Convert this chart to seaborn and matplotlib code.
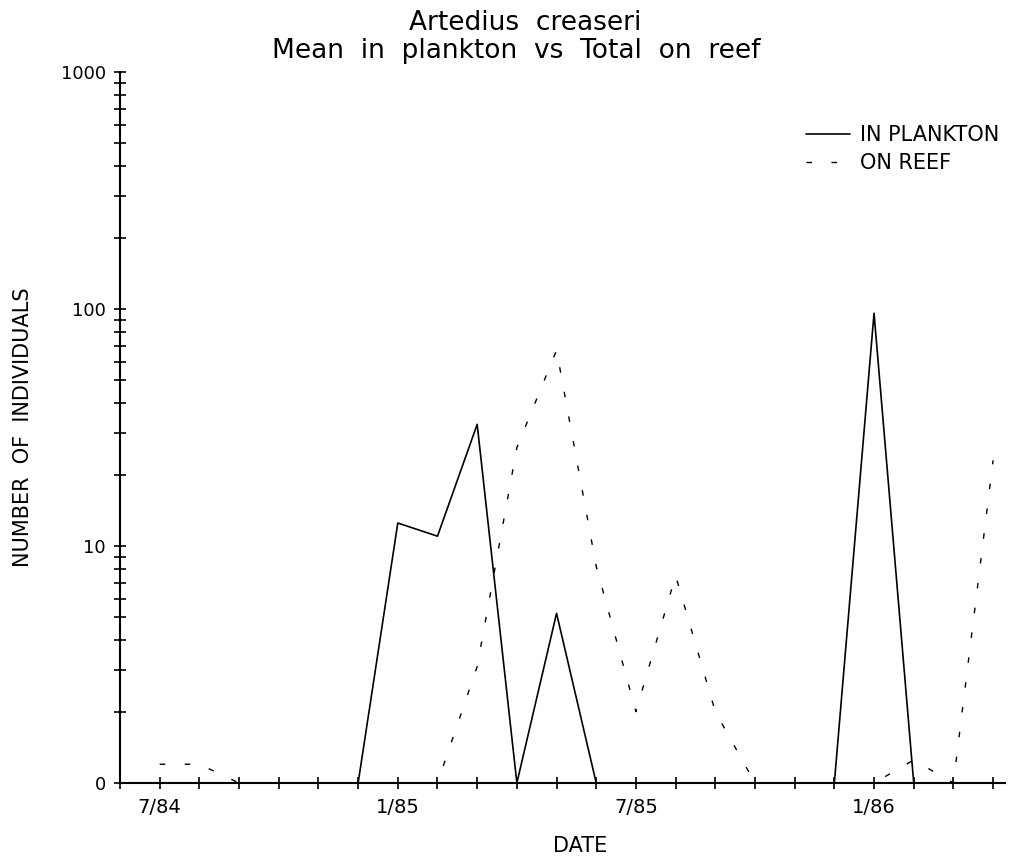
import numpy as np
import pandas as pd
import matplotlib
matplotlib.use("Agg")
import matplotlib.pyplot as plt
import seaborn as sns
from matplotlib.ticker import FixedLocator, FixedFormatter, NullFormatter

# monthly sampling dates, 6/84 - 4/86
months = ['6/84', '7/84', '8/84', '9/84', '10/84', '11/84', '12/84',
          '1/85', '2/85', '3/85', '4/85', '5/85', '6/85', '7/85', '8/85',
          '9/85', '10/85', '11/85', '12/85', '1/86', '2/86', '3/86', '4/86']

# mean number in plankton (6/84 - 3/86)
plankton_months = months[:22]
plankton = [0, 0, 0, 0, 0, 0, 0, 11.5, 10.0, 31.6, 0, 4.2,
            0, 0, 0, 0, 0, 0, 0, 95, 0, 0]

# total number on reef (7/84 - 4/86)
reef_months = months[1:]
reef = [0.2, 0.2, 0, 0, 0, 0, 0, 0, 2.1, 25, 66, 7.2, 1.0, 6.5, 1.0,
        0, 0, 0, 0, 0.25, 0, 22]

labelled_months = ['7/84', '1/85', '7/85', '1/86']
y_ticks = [0, 10, 100, 1000]

# log(n + 1) axis, the bottom of the axis is zero
df_p = pd.DataFrame({'pos': [months.index(m) for m in plankton_months],
                     'n': np.array(plankton) + 1})
df_r = pd.DataFrame({'pos': [months.index(m) for m in reef_months],
                     'n': np.array(reef) + 1})

sns.set_style("ticks")
plt.rcParams['font.family'] = ['DejaVu Sans']
plt.rcParams['text.color'] = 'black'
plt.rcParams['axes.labelcolor'] = 'black'
plt.rcParams['xtick.color'] = 'black'
plt.rcParams['ytick.color'] = 'black'

fig = plt.figure(figsize=(10.1, 8.61), dpi=100)
ax = fig.add_axes([120 / 1010, 78 / 861, 885 / 1010, 711 / 861])

sns.lineplot(data=df_p, x='pos', y='n', ax=ax, color='black', lw=1.2,
             label='IN PLANKTON', clip_on=False)
sns.lineplot(data=df_r, x='pos', y='n', ax=ax, color='black', lw=1.0,
             linestyle=(0, (4, 14)), label='ON REEF', clip_on=False)

ax.set_yscale('log')
ax.set_ylim(1, 1000)
ax.set_xlim(0, 22.3)

ax.yaxis.set_major_locator(FixedLocator([v + 1 if v == 0 else v for v in y_ticks]))
ax.yaxis.set_major_formatter(FixedFormatter([str(v) for v in y_ticks]))
minor = [m * 10 ** d for d in range(3) for m in range(2, 10)]
ax.yaxis.set_minor_locator(FixedLocator(minor))
ax.yaxis.set_minor_formatter(NullFormatter())

ax.xaxis.set_major_locator(FixedLocator(range(len(months))))
ax.xaxis.set_major_formatter(FixedFormatter(
    [m if m in labelled_months else '' for m in months]))

sns.despine(ax=ax)
for s in ['left', 'bottom']:
    ax.spines[s].set_linewidth(1.5)
    ax.spines[s].set_color('black')
ax.tick_params(axis='both', which='both', direction='inout', length=8,
               width=1.2, color='black')
ax.tick_params(axis='x', pad=7, labelsize=14)
ax.tick_params(axis='y', pad=6, labelsize=13)

ax.set_xlabel('')
ax.set_ylabel('NUMBER  OF  INDIVIDUALS', fontsize=15, labelpad=20)
fig.text(580 / 1010, 1 - 846 / 861, 'DATE', fontsize=15, ha='center', va='center')

fig.text(525 / 1010, 1 - 30 / 861, 'Artedius  creaseri', fontsize=19,
         ha='center', va='baseline')
fig.text(516 / 1010, 1 - 58 / 861, 'Mean  in  plankton  vs  Total  on  reef',
         fontsize=19, ha='center', va='baseline')

ax.legend(loc='upper left', bbox_to_anchor=(806 / 1010, 1 - 125 / 861),
          bbox_transform=fig.transFigure, frameon=False, fontsize=15,
          handlelength=2.1, handletextpad=0.5, labelspacing=0.4,
          borderpad=0, borderaxespad=0)

fig.savefig('out.png', dpi=100)
